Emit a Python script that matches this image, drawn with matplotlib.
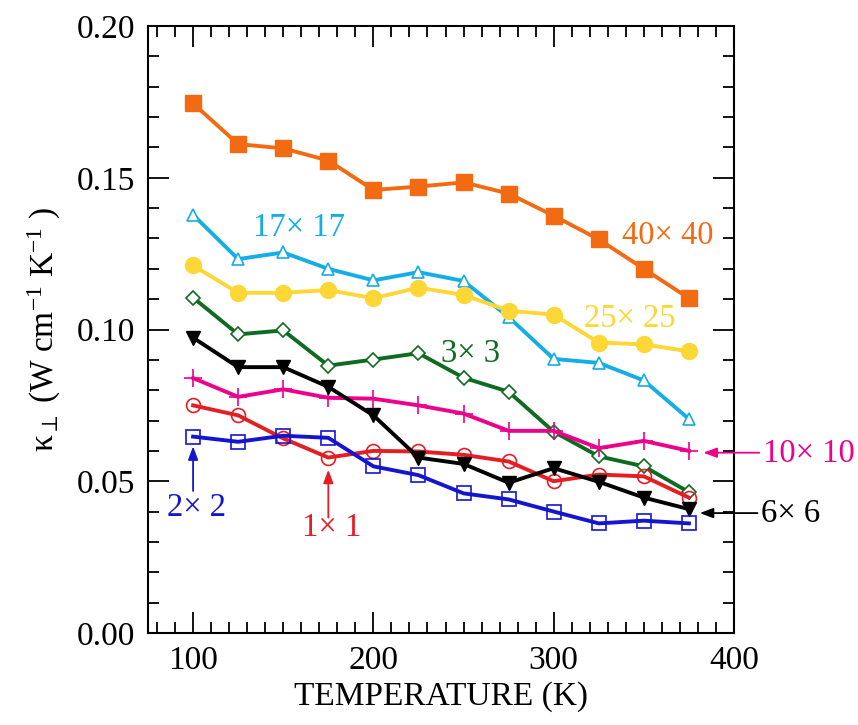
import matplotlib.pyplot as plt
from matplotlib.ticker import MultipleLocator

plt.rcParams['font.family'] = ['Liberation Serif', 'DejaVu Serif']
plt.rcParams['mathtext.fontset'] = 'custom'
plt.rcParams['mathtext.rm'] = 'Liberation Serif'
plt.rcParams['mathtext.it'] = 'Liberation Serif:italic'

# Temperatures (K)
temps = [100, 125, 150, 175, 200, 225, 250, 275, 300, 325, 350, 375]

# kappa_perp (W cm^-1 K^-1) for each cross-section
k_40 = [0.1745, 0.1611, 0.1597, 0.1557, 0.1460, 0.1471, 0.1485, 0.1448, 0.1375, 0.1297, 0.1200, 0.1103]
k_17 = [0.1378, 0.1232, 0.1254, 0.1200, 0.1162, 0.1189, 0.1160, 0.1041, 0.0903, 0.0890, 0.0832, 0.0705]
k_25 = [0.1211, 0.1121, 0.1121, 0.1130, 0.1103, 0.1138, 0.1114, 0.1062, 0.1049, 0.0957, 0.0951, 0.0928]
k_3 = [0.1105, 0.0984, 0.0997, 0.0881, 0.0901, 0.0922, 0.0841, 0.0795, 0.0663, 0.0582, 0.0549, 0.0464]
k_6 = [0.0973, 0.0876, 0.0876, 0.0811, 0.0717, 0.0578, 0.0557, 0.0495, 0.0543, 0.0498, 0.0446, 0.0408]
k_10 = [0.0840, 0.0778, 0.0803, 0.0775, 0.0772, 0.0750, 0.0723, 0.0666, 0.0666, 0.0609, 0.0633, 0.0600]
k_1 = [0.0750, 0.0717, 0.0641, 0.0578, 0.0600, 0.0598, 0.0587, 0.0565, 0.0500, 0.0522, 0.0516, 0.0446]
k_2 = [0.0647, 0.0630, 0.0650, 0.0643, 0.0549, 0.0520, 0.0460, 0.0440, 0.0400, 0.0361, 0.0370, 0.0361]

orange = '#F26A12'
cyan = '#14ADE6'
yellow = '#FDD735'
green = '#0E6B1F'
pink = '#EC008C'
red = '#E31E24'
blue = '#1515D0'

fig = plt.figure(figsize=(8.58, 7.25), dpi=100)
ax = fig.add_axes([0.1725, 0.127, 0.683, 0.837])

lw = 2.8
ax.plot(temps, k_40, color=orange, lw=lw, marker='s', ms=12)
ax.plot(temps, k_17, color=cyan, lw=lw, marker='^', ms=9, mfc='white', mew=1.2)
ax.plot(temps, k_25, color=yellow, lw=lw, marker='o', ms=11.5)
ax.plot(temps, k_3, color=green, lw=lw, marker='D', ms=7, mfc='white', mew=1.2)
ax.plot(temps, k_10, color=pink, lw=lw, marker='+', ms=13, mew=1.2)
ax.plot(temps, k_1, color=red, lw=lw, marker='o', ms=10, mfc='none', mew=1.2)
ax.plot(temps, k_6, color='black', lw=lw, marker='v', ms=10)
ax.plot(temps, k_2, color=blue, lw=lw, marker='s', ms=10, mfc='none', mew=1.2)

ax.set_xlim(75, 400)
ax.set_ylim(0, 0.20)
ax.xaxis.set_major_locator(MultipleLocator(100))
ax.xaxis.set_minor_locator(MultipleLocator(10))
ax.yaxis.set_major_locator(MultipleLocator(0.05))
ax.yaxis.set_minor_locator(MultipleLocator(0.01))
ax.yaxis.set_major_formatter(plt.FormatStrFormatter('%.2f'))
ax.tick_params(which='both', direction='in', top=True, right=True, labelsize=24, width=1.3)
ax.tick_params(which='major', length=15, pad=9)
ax.tick_params(which='minor', length=8)
for s in ax.spines.values():
    s.set_linewidth(1.5)

ax.set_xlabel('TEMPERATURE (K)', fontsize=24, labelpad=4)
ax.set_ylabel('κ$_{\\perp}$ (W cm$^{-1}$ K$^{-1}$ )', fontsize=24, labelpad=10)

fs = 23.5
ax.text(159, 0.1335, '17× 17', color=cyan, fontsize=fs, ha='center', va='center')
ax.text(363, 0.131, '40× 40', color=orange, fontsize=fs, ha='center', va='center')
ax.text(342, 0.1035, '25× 25', color=yellow, fontsize=fs, ha='center', va='center')
ax.text(254, 0.092, '3× 3', color=green, fontsize=fs, ha='center', va='center')
ax.text(102, 0.0413, '2× 2', color=blue, fontsize=fs, ha='center', va='center')
ax.text(177, 0.0345, '1× 1', color=red, fontsize=fs, ha='center', va='center')
ax.text(416, 0.0592, '10× 10', color=pink, fontsize=fs, ha='left', va='center', clip_on=False)
ax.text(415, 0.0393, '6× 6', color='black', fontsize=fs, ha='left', va='center', clip_on=False)

arrow = dict(arrowstyle='-|>,head_length=0.8,head_width=0.3', lw=1.3, shrinkA=0, shrinkB=0)
ax.annotate('', xy=(100, 0.0615), xytext=(100, 0.0468),
            arrowprops=dict(arrow, color=blue), annotation_clip=False)
ax.annotate('', xy=(175, 0.0538), xytext=(175, 0.0380),
            arrowprops=dict(arrow, color=red), annotation_clip=False)
ax.annotate('', xy=(383, 0.0594), xytext=(414, 0.0594),
            arrowprops=dict(arrow, color=pink), annotation_clip=False)
ax.annotate('', xy=(381, 0.0395), xytext=(413, 0.0395),
            arrowprops=dict(arrow, color='black'), annotation_clip=False)

fig.savefig('out.png', dpi=100)
